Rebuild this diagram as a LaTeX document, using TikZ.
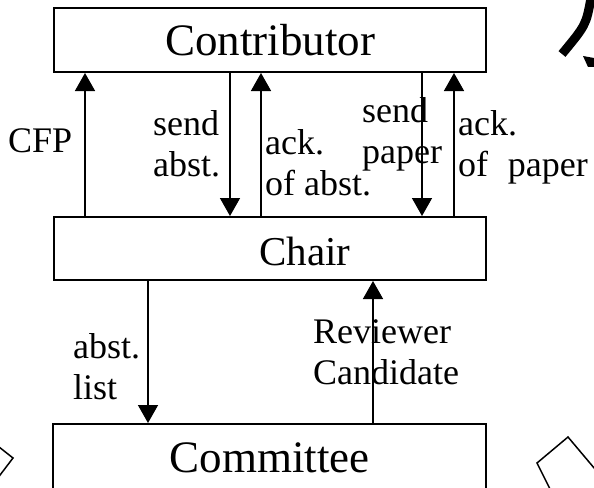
\documentclass[tikz,border=0pt]{standalone}
\usepackage{fontspec}
\setmainfont{Liberation Serif}
\usetikzlibrary{arrows.meta}
% two-line label, first baseline on the node's base
\newcommand\twol[2]{\begin{tabular}[t]{@{}l@{}}#1\\#2\end{tabular}}
\begin{document}
\begin{tikzpicture}[x=1pt,y=-1pt,
  box/.style={draw,line width=2pt,rectangle,inner sep=0pt,
    font=\fontsize{45}{50}\selectfont},
  arr/.style={line width=1.5pt,-{Triangle[width=20pt,length=18pt]}},
  lbl/.style={anchor=base west,inner sep=0pt,font=\fontsize{36}{41}\selectfont},
  edge/.style={line width=1.5pt}]
\useasboundingbox (0,0) rectangle (594,487);
\clip (0,0) rectangle (594,487);

% the three parties
\node[box,minimum width=432pt,minimum height=64pt] (contrib) at (270,40) {Contributor};
\node[box,minimum width=432pt,minimum height=63pt] (chair) at (270,248.5) {};
\node[anchor=base,inner sep=0pt,font=\fontsize{41}{46}\selectfont] (chairtxt) at (305,265) {Chair};
\node[box,minimum width=433pt,minimum height=67pt] (comm) at (269.5,457.5) {Committee};

% messages between contributor and chair
\draw[arr] (85,0 |- chair.north) -- (85,0 |- contrib.south);
\draw[arr] (230,0 |- contrib.south) -- (230,0 |- chair.north);
\draw[arr] (261,0 |- chair.north) -- (261,0 |- contrib.south);
\draw[arr] (422,0 |- contrib.south) -- (422,0 |- chair.north);
\draw[arr] (454,0 |- chair.north) -- (454,0 |- contrib.south);

% messages between chair and committee
\draw[arr] (148,0 |- chair.south) -- (148,0 |- comm.north);
\draw[arr] (373,0 |- comm.north) -- (373,0 |- chair.south);

% message labels
\node[lbl] (cfp) at (8,152) {CFP};
\node[lbl] (sabst) at (153,135) {\twol{send}{abst.}};
\node[lbl] (aabst) at (265,154) {\twol{ack.}{of abst.}};
\node[lbl] (spaper) at (362,122) {\twol{send}{paper}};
\node[lbl] (apaper) at (458,135) {\twol{ack.}{of\hspace{0.55em}paper}};
\node[lbl] (alist) at (73,358) {\twol{abst.}{list}};
\node[lbl] (revc) at (313,343) {\twol{Reviewer}{Candidate}};

% partial shapes at the edges
\draw[edge] (-6,443) -- (13,458) -- (-6,483);
\draw[edge] (553,495) -- (537,463) -- (568,437) -- (600,475);
\draw[line width=9pt] (591,-2) .. controls (586,25) .. (562,54);
\fill (583,56) -- (594,58) -- (594,67) -- (588,67) -- cycle;
\end{tikzpicture}
\end{document}
